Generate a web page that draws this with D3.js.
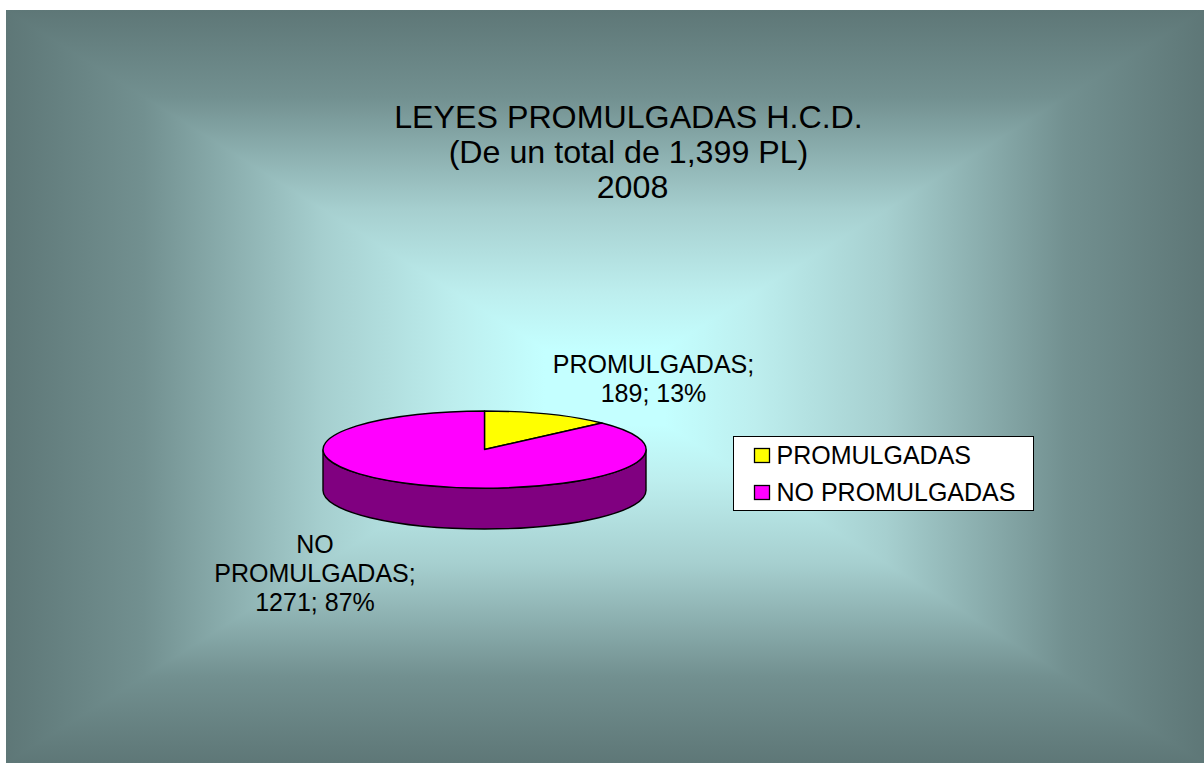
<!DOCTYPE html>
<html>
<head>
<meta charset="utf-8">
<script src="https://cdn.jsdelivr.net/npm/d3@7"></script>
<style>
  html, body { margin: 0; padding: 0; background: #fff; overflow: hidden; }
  text { font-family: "Liberation Sans", Arial, sans-serif; fill: #000; }
</style>
</head>
<body>
<div id="chart"></div>
<script>
// Chart data
const categories = ["PROMULGADAS", "NO PROMULGADAS"];
const values = [189, 1271];
const sliceColors = ["#ffff00", "#ff00ff"];
const sideColor = "#800080";
const titleLines = ["LEYES PROMULGADAS H.C.D.", "(De un total de 1,399 PL)", "2008"];
const sliceLabels = [
  ["PROMULGADAS;", "189; 13%"],
  ["NO", "PROMULGADAS;", "1271; 87%"]
];

const width = 1204;
const height = 763;

const svg = d3.select("#chart")
  .append("svg")
  .attr("width", width)
  .attr("height", height)
  .style("display", "block");

// Background panel: rectangular gradient made of four triangles
const panel = { x0: 6, y0: 10, x1: 1204, y1: 763 };
const glow = { x: 605, y: 387 };
const defs = svg.append("defs");
const stops = [
  [0, "#c4ffff"], [0.1, "#c4ffff"], [0.25, "#bdeeee"],
  [0.47, "#a6cfcf"], [0.77, "#729090"], [1, "#5e7777"]
];

const sides = [
  { id: "bgTop", a: [panel.x0, panel.y0], b: [panel.x1, panel.y0], end: [glow.x, panel.y0] },
  { id: "bgBottom", a: [panel.x0, panel.y1], b: [panel.x1, panel.y1], end: [glow.x, panel.y1] },
  { id: "bgLeft", a: [panel.x0, panel.y0], b: [panel.x0, panel.y1], end: [panel.x0, glow.y] },
  { id: "bgRight", a: [panel.x1, panel.y0], b: [panel.x1, panel.y1], end: [panel.x1, glow.y] }
];

sides.forEach((s) => {
  const grad = defs.append("linearGradient")
    .attr("id", s.id)
    .attr("gradientUnits", "userSpaceOnUse")
    .attr("x1", glow.x).attr("y1", glow.y)
    .attr("x2", s.end[0]).attr("y2", s.end[1]);
  stops.forEach(([o, c]) => grad.append("stop").attr("offset", o).attr("stop-color", c));
  svg.append("polygon")
    .attr("points", [[glow.x, glow.y], s.a, s.b].join(" "))
    .attr("fill", `url(#${s.id})`)
    .attr("shape-rendering", "crispEdges");
});

// Title, the last line sits a bit to the right in the original
const titleX = [628.5, 628.5, 632.5];
svg.append("g")
  .selectAll("text")
  .data(titleLines)
  .join("text")
  .attr("x", (d, i) => titleX[i])
  .attr("y", (d, i) => 128 + i * 35)
  .attr("text-anchor", "middle")
  .style("font-size", "32.2px")
  .text((d) => d);

// 3D pie, drawn on a unit circle and squashed into an ellipse
const rx = 161.5;
const ry = 38.5;
const depth = 41;
const pieG = svg.append("g")
  .attr("transform", `translate(484.5,449.5) scale(${rx},${ry})`);

const side = d3.path();
side.arc(0, 0, 1, 0, Math.PI);
side.lineTo(-1, depth / ry);
side.arc(0, depth / ry, 1, Math.PI, 0, true);
side.closePath();

pieG.append("path")
  .attr("d", side.toString())
  .attr("fill", sideColor)
  .attr("stroke", "#000")
  .attr("stroke-width", 1.4)
  .attr("vector-effect", "non-scaling-stroke");

const pie = d3.pie().sort(null).value((d) => d);
const arc = d3.arc().innerRadius(0).outerRadius(1);

pieG.selectAll("path.slice")
  .data(pie(values))
  .join("path")
  .attr("class", "slice")
  .attr("d", arc)
  .attr("fill", (d, i) => sliceColors[i])
  .attr("stroke", "#000")
  .attr("stroke-width", 1.4)
  .attr("stroke-linejoin", "round")
  .attr("vector-effect", "non-scaling-stroke");

// Slice labels
const labelPos = [[653.5, 373], [315, 553]];
sliceLabels.forEach((lines, k) => {
  svg.append("g")
    .selectAll("text")
    .data(lines)
    .join("text")
    .attr("x", labelPos[k][0])
    .attr("y", (d, i) => labelPos[k][1] + i * 29)
    .attr("text-anchor", "middle")
    .style("font-size", "25px")
    .text((d) => d);
});

// Legend
const legend = svg.append("g").attr("transform", "translate(733.5,436.5)");
legend.append("rect")
  .attr("width", 300)
  .attr("height", 74)
  .attr("fill", "#fff")
  .attr("stroke", "#000")
  .attr("stroke-width", 1);

const legendY = d3.scalePoint().domain(categories).range([19, 56]);

const items = legend.selectAll("g.item")
  .data(categories)
  .join("g")
  .attr("class", "item")
  .attr("transform", (d) => `translate(0,${legendY(d)})`);

items.append("rect")
  .attr("x", 21)
  .attr("y", -7)
  .attr("width", 15)
  .attr("height", 14)
  .attr("fill", (d, i) => sliceColors[i])
  .attr("stroke", "#000")
  .attr("stroke-width", 1.3);

items.append("text")
  .attr("x", 43)
  .attr("y", 8.5)
  .style("font-size", "25px")
  .text((d) => d);
</script>
</body>
</html>
